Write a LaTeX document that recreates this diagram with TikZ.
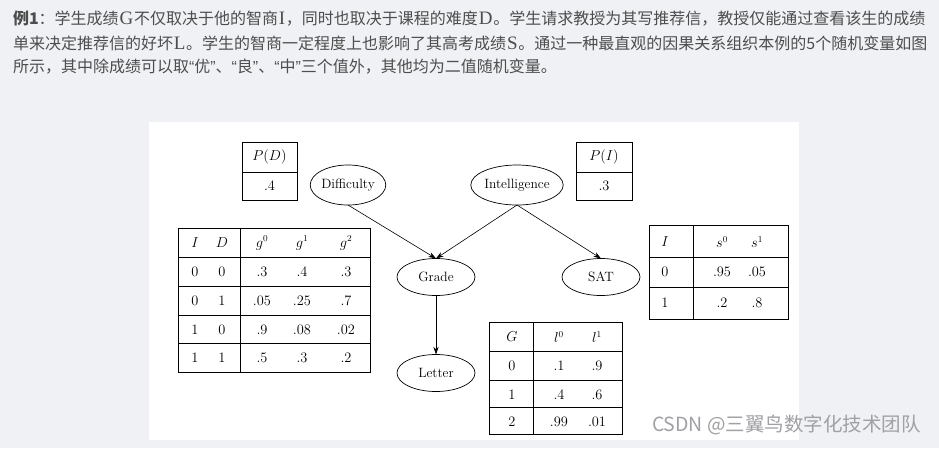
\documentclass[tikz,border=0pt]{standalone}
\usepackage{fontspec}
\newfontfamily\cjk{Noto Sans CJK SC}
\newfontfamily\tms{Liberation Serif}
\newfontfamily\lsans{Liberation Sans}
\usetikzlibrary{shapes.geometric,arrows.meta}
\definecolor{pagebg}{RGB}{240,241,245}
\definecolor{txt}{RGB}{77,77,77}
\definecolor{wm}{RGB}{160,160,165}
\newcommand{\dfont}{\fontsize{13.5}{15}\selectfont}
\newcommand{\lat}[1]{{\tms\fontsize{19}{19}\selectfont\hspace{0.8pt}#1\hspace{0.8pt}}}
\newcommand{\q}[1]{{\lsans #1}}
\begin{document}
\begin{tikzpicture}[x=1pt,y=-1pt,
  every node/.style={inner sep=0pt, outer sep=0pt},
  topline/.style={anchor=west, text=txt, font=\cjk\fontsize{16}{16}\selectfont},
  cell/.style={font=\dfont},
  frame/.style={draw=black, line width=0.9pt},
  var/.style={draw=black, ellipse, line width=0.7pt, font=\dfont},
  arr/.style={-{Stealth[length=7.5pt,width=5pt]}, line width=0.6pt}]
\useasboundingbox (0,0) rectangle (939,448);
\fill[pagebg] (0,0) rectangle (939,448);
\fill[white] (149,122) rectangle (799,440);

% top text
\node[topline] (t1) at (13,19) {\textbf{例1}：学生成绩\lat{G}不仅取决于他的智商\lat{I}，同时也取决于课程的难度\lat{D}。学生请求教授为其写推荐信，教授仅能通过查看该生的成绩};
\node[topline] (t2) at (13,43) {单来决定推荐信的好坏\lat{L}。学生的智商一定程度上也影响了其高考成绩\lat{S}。通过一种最直观的因果关系组织本例的5个随机变量如图};
\node[topline] (t3) at (13,67) {所示，其中除成绩可以取\q{“}优\q{”}、\q{“}良\q{”}、\q{“}中\q{”}三个值外，其他均为二值随机变量。};

% variables
\node[var, minimum width=68, minimum height=40] (D) at (348,185) {Difficulty};
\node[var, minimum width=80, minimum height=40] (I) at (517,185) {Intelligence};
\node[var, minimum width=78, minimum height=37] (G) at (436,277) {Grade};
\node[var, minimum width=78, minimum height=37] (S) at (601,277) {SAT};
\node[var, minimum width=78, minimum height=37] (L) at (436,373) {Letter};

\draw[arr] (D.south) -- (G.north);
\draw[arr] (I.south) -- (G.north);
\draw[arr] (I.south) -- (S.north);
\draw[arr] (G.south) -- (L.north);

% P(D)
\draw[frame] (242,142) rectangle (297,200);
\draw[frame] (242,172) -- (297,172);
\node[cell] (pdh) at (269.5,157) {$P(D)$};
\node[cell] (pdv) at (269.5,186) {$.4$};

% P(I)
\draw[frame] (576,142) rectangle (632,200);
\draw[frame] (576,172) -- (632,172);
\node[cell] (pih) at (604,157) {$P(I)$};
\node[cell] (piv) at (604,186) {$.3$};

% Grade CPD
\draw[frame] (178,228) rectangle (370,372);
\draw[frame] (240,228) -- (240,372);
\foreach \yy in {257,286,315,343} \draw[frame] (178,\yy) -- (370,\yy);
\node[cell] (gh1) at (195,243) {$I$};
\node[cell] (gh2) at (222,243) {$D$};
\node[cell] (gh3) at (262,243) {$g^0$};
\node[cell] (gh4) at (302,243) {$g^1$};
\node[cell] (gh5) at (346,243) {$g^2$};
\foreach \a/\b/\c/\d/\e/\yy/\n in {0/0/.3/.4/.3/272/1, 0/1/.05/.25/.7/301/2, 1/0/.9/.08/.02/330/3, 1/1/.5/.3/.2/358/4}{
  \node[cell] (ga\n) at (195,\yy) {$\a$};
  \node[cell] (gb\n) at (222,\yy) {$\b$};
  \node[cell] (gc\n) at (262,\yy) {$\c$};
  \node[cell] (gd\n) at (302,\yy) {$\d$};
  \node[cell] (ge\n) at (346,\yy) {$\e$};
}

% SAT CPD
\draw[frame] (649,225) rectangle (788,319);
\draw[frame] (693,225) -- (693,319);
\foreach \yy in {257,287} \draw[frame] (649,\yy) -- (788,\yy);
\node[cell] (sh1) at (665,242) {$I$};
\node[cell] (sh2) at (722,242) {$s^0$};
\node[cell] (sh3) at (757,242) {$s^1$};
\node[cell] (sa1) at (665,272) {$0$};
\node[cell] (sb1) at (722,272) {$.95$};
\node[cell] (sc1) at (757,272) {$.05$};
\node[cell] (sa2) at (665,303) {$1$};
\node[cell] (sb2) at (722,303) {$.2$};
\node[cell] (sc2) at (757,303) {$.8$};

% Letter CPD
\draw[frame] (489,322) rectangle (622,434);
\draw[frame] (533,322) -- (533,434);
\foreach \yy in {351,380,407} \draw[frame] (489,\yy) -- (622,\yy);
\node[cell] (lh1) at (512,337) {$G$};
\node[cell] (lh2) at (559,337) {$l^0$};
\node[cell] (lh3) at (597,337) {$l^1$};
\foreach \a/\b/\c/\yy/\n in {0/.1/.9/366/1, 1/.4/.6/395/2, 2/.99/.01/422/3}{
  \node[cell] (la\n) at (512,\yy) {$\a$};
  \node[cell] (lb\n) at (559,\yy) {$\b$};
  \node[cell] (lc\n) at (597,\yy) {$\c$};
}

% watermark
\node[anchor=west, text=wm, font=\cjk\fontsize{19.5}{19.5}\selectfont] (wmk) at (652,425) {CSDN @三翼鸟数字化技术团队};
\end{tikzpicture}
\end{document}
